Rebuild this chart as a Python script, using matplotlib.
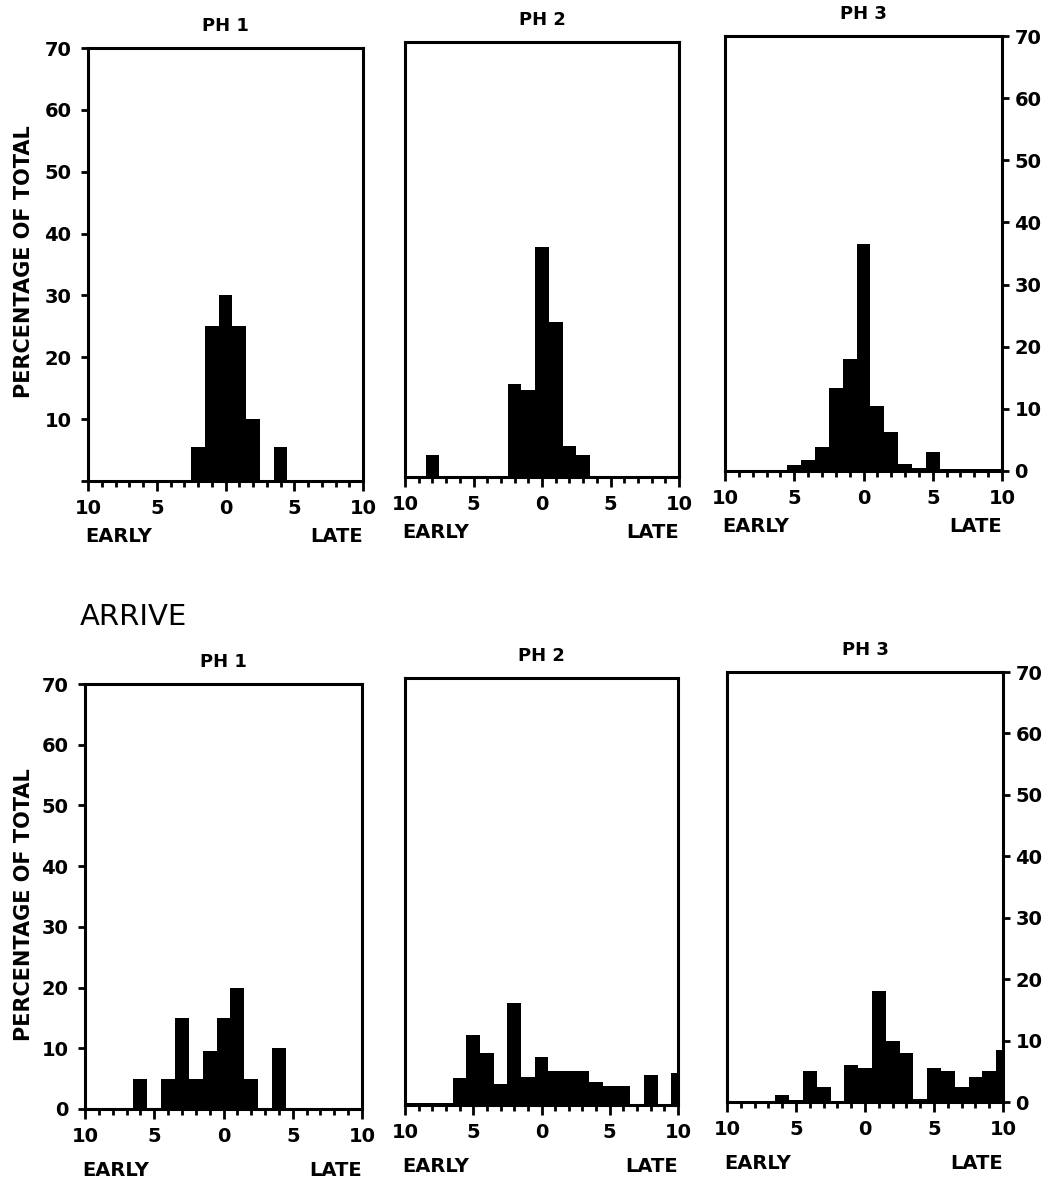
import numpy as np
import matplotlib
matplotlib.use('Agg')
from matplotlib import pyplot as plt
from matplotlib.ticker import FuncFormatter, MultipleLocator

plt.rcParams['font.family'] = ['DejaVu Sans']
plt.rcParams['font.weight'] = 'bold'

# bin centres, one minute wide, -10 (early) .. 10 (late)
bins = np.arange(-10, 11)

# top row (depart)
top_ph1 = [0, 0, 0, 0, 0, 0, 0, 0, 5.5, 25, 30, 25, 10, 0, 5.5, 0, 0, 0, 0, 0, 0]
top_ph2 = [0, 0, 3.5, 0, 0, 0, 0, 0, 15, 14, 37, 25, 5, 3.5, 0, 0, 0, 0, 0, 0, 0]
top_ph3 = [0, 0, 0, 0, 0, 1, 1.7, 3.8, 13.3, 18.1, 36.5, 10.4, 6.2, 1.2, 0.5, 3, 0.4, 0.4, 0.4, 0.4, 0.4]

# bottom row (arrive)
bot_ph1 = [0, 0, 0, 0, 5, 0, 5, 15, 5, 9.5, 15, 20, 5, 0, 10, 0, 0, 0, 0, 0, 0]
bot_ph2 = [0.3, 0.3, 0.3, 0.3, 4.5, 11.5, 8.5, 3.5, 16.7, 4.6, 7.8, 5.5, 5.5, 5.5, 3.8, 3.1, 3.1, 0, 5, 0, 5.2]
bot_ph3 = [0, 0, 0, 0, 1.2, 0.3, 5, 2.5, 0, 6, 5.5, 18, 10, 8, 0.5, 5.5, 5, 2.5, 4, 5, 8.5]

titles = ['PH 1', 'PH 2', 'PH 3']
y_ticks = [0, 10, 20, 30, 40, 50, 60, 70]

W, H = 1057, 1191
fig = plt.figure(figsize=(W / 100, H / 100), dpi=100)


def box(l, t, r, b):
    return [l / W, 1 - b / H, (r - l) / W, (b - t) / H]


top_boxes = [box(88, 48, 363, 481), box(405, 42, 679, 477), box(725, 36, 1002, 471)]
bot_boxes = [box(85, 684, 362, 1109), box(405, 678, 678, 1105), box(727, 672, 1003, 1102)]


def panel(pos, values, title, col, top_row):
    ax = fig.add_axes(pos)
    ax.bar(bins, values, width=1.0, color='black', edgecolor='none')
    ax.set_xlim(-10, 10)
    ax.set_ylim(0, 70)
    for s in ax.spines.values():
        s.set_linewidth(2.2)
    ax.xaxis.set_major_locator(MultipleLocator(5))
    ax.xaxis.set_minor_locator(MultipleLocator(1))
    ax.xaxis.set_major_formatter(FuncFormatter(lambda v, p: f'{abs(v):g}'))
    ax.tick_params(axis='x', which='major', direction='out', length=7, width=2,
                   pad=6, labelsize=14)
    ax.tick_params(axis='x', which='minor', direction='out', length=4, width=2)
    ax.set_yticks(y_ticks)
    if col == 0:
        ax.tick_params(axis='y', left=True, right=False, labelleft=True,
                       direction='out', length=5, width=2, pad=7, labelsize=14)
        if top_row:
            ax.set_yticklabels([''] + [str(v) for v in y_ticks[1:]])
    elif col == 2:
        ax.tick_params(axis='y', left=False, right=True, labelleft=False,
                       labelright=True, direction='out', length=5, width=2,
                       pad=4, labelsize=14)
    else:
        ax.tick_params(axis='y', left=False, labelleft=False)
    ax.set_title(title, fontsize=13, fontweight='bold', pad=12)
    off = -40 if top_row else -44
    ax.annotate('EARLY', xy=(0, 0), xycoords='axes fraction', xytext=(-2, off),
                textcoords='offset points', ha='left', va='center', fontsize=14)
    ax.annotate('LATE', xy=(1, 0), xycoords='axes fraction', xytext=(0, off),
                textcoords='offset points', ha='right', va='center', fontsize=14)
    return ax


for i, vals in enumerate([top_ph1, top_ph2, top_ph3]):
    panel(top_boxes[i], vals, titles[i], i, True)
for i, vals in enumerate([bot_ph1, bot_ph2, bot_ph3]):
    panel(bot_boxes[i], vals, titles[i], i, False)

fig.text(24 / W, 1 - 262 / H, 'PERCENTAGE OF TOTAL', rotation=90,
         ha='center', va='center', fontsize=15, fontweight='bold')
fig.text(24 / W, 1 - 905 / H, 'PERCENTAGE OF TOTAL', rotation=90,
         ha='center', va='center', fontsize=15, fontweight='bold')
fig.text(80 / W, 1 - 617 / H, 'ARRIVE', ha='left', va='center',
         fontsize=21, fontweight='normal')

fig.savefig('out.png', dpi=100)
